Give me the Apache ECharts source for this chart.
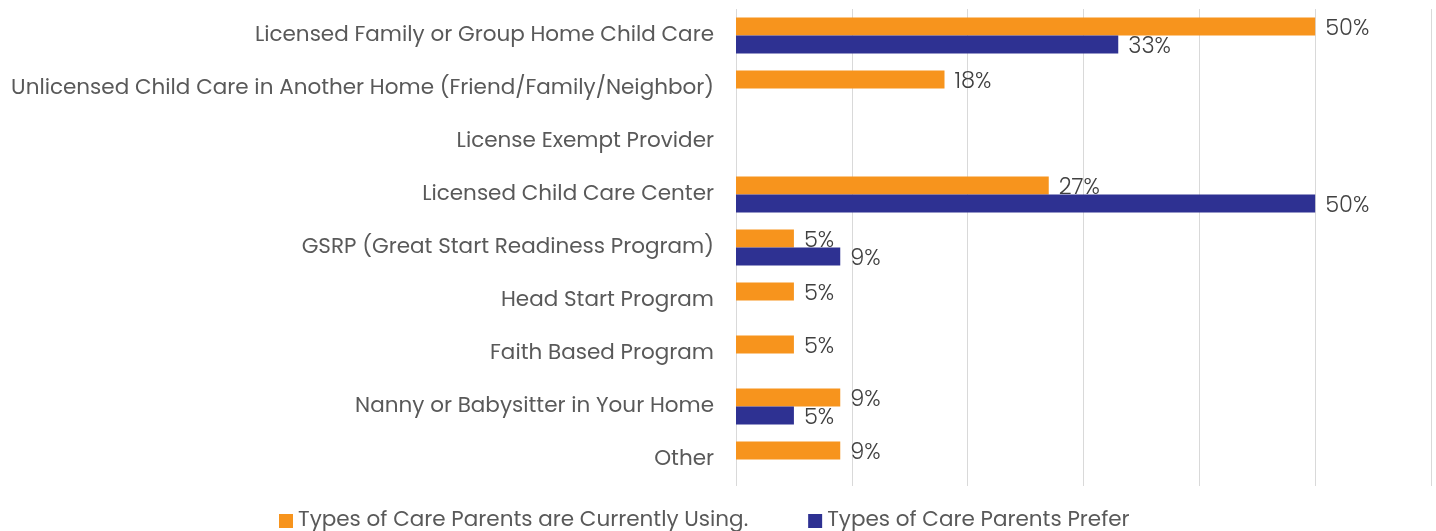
<!DOCTYPE html>
<html>
<head>
    <meta charset="utf-8">
    <title>ECharts</title>
    <script src="https://cdn.jsdelivr.net/npm/echarts@6/dist/echarts.min.js"></script>
</head>
<style>
    html, body {
        margin: 0;
        background: #fff;
    }
    #main {
        width: 1436px;
        height: 531px;
    }
</style>
<body>
    <div id="main"></div>
    <script type="text/javascript">
        var categories = [
            'Licensed Family or Group Home Child Care',
            'Unlicensed Child Care in Another Home (Friend/Family/Neighbor)',
            'License Exempt Provider',
            'Licensed Child Care Center',
            'GSRP (Great Start Readiness Program)',
            'Head Start Program',
            'Faith Based Program',
            'Nanny or Babysitter in Your Home',
            'Other'
        ];
        var seriesNames = ['Types of Care Parents are Currently Using.', 'Types of Care Parents Prefer'];
        var usingValues = [50, 18, null, 27, 5, 5, 5, 9, 9];
        var preferValues = [33, null, null, 50, 9, null, null, 5, null];

        var font = 'Poppins, "Open Sans", sans-serif';

        function barSeries(name, values, color) {
            return {
                name: name,
                type: 'bar',
                data: values,
                barWidth: 18,
                barGap: '0%',
                itemStyle: { color: color },
                label: {
                    show: true,
                    position: 'right',
                    distance: 10,
                    offset: [0, 3],
                    formatter: '{c}%',
                    fontFamily: font,
                    fontSize: 22.5,
                    fontWeight: 300,
                    color: '#404040'
                }
            };
        }

        var option = {
            animation: false,
            textStyle: { fontFamily: font },
            legend: {
                bottom: -6,
                left: 274,
                itemWidth: 14,
                itemHeight: 14,
                itemGap: 60,
                icon: 'rect',
                textStyle: { fontSize: 21.5, color: '#595959', fontFamily: font },
                data: seriesNames
            },
            grid: {
                left: 736,
                right: 5,
                top: 9,
                bottom: 45
            },
            xAxis: {
                type: 'value',
                min: 0,
                max: 60,
                interval: 10,
                axisLabel: { show: false },
                axisLine: { show: false },
                axisTick: { show: false },
                splitLine: { lineStyle: { color: '#d9d9d9' } }
            },
            yAxis: {
                type: 'category',
                inverse: true,
                data: categories,
                axisLine: { show: false },
                axisTick: { show: false },
                axisLabel: {
                    margin: 22,
                    fontSize: 21.5,
                    color: '#595959',
                    fontFamily: font
                }
            },
            series: [
                barSeries(seriesNames[0], usingValues, '#F7941D'),
                barSeries(seriesNames[1], preferValues, '#2E3192')
            ]
        };
        var myChart = echarts.init(document.getElementById('main'));
        myChart.setOption(option);
    </script>
</body>
</html>
